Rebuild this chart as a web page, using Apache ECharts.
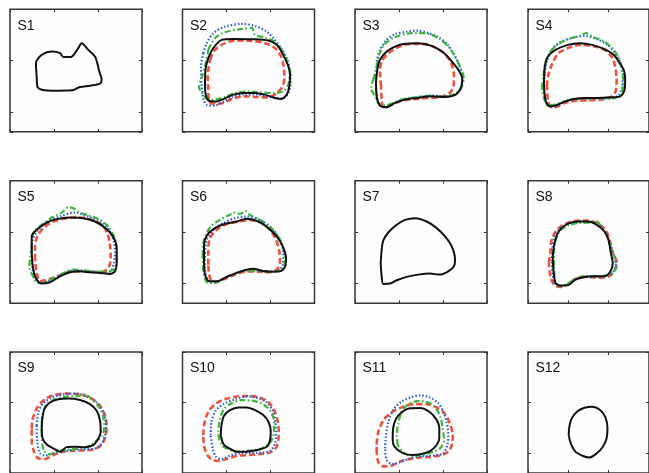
<!DOCTYPE html>
<html><head><meta charset="utf-8">
<script src="https://cdn.jsdelivr.net/npm/echarts@6/dist/echarts.min.js"></script>
<style>html,body{margin:0;padding:0;background:#fff}#c{width:649px;height:473px}</style>
</head><body><div id="c"></div>
<script>
// Panel titles
const titles = ['S1','S2','S3','S4','S5','S6','S7','S8','S9','S10','S11','S12'];
// Axis ticks (panel units: x 0..132, y 0..123 measured downward)
const xTicks = [0, 44, 88, 132];
const yTicks = [0, 51.5, 103];

// ---- contour data: [x, y] in panel units ----
const S1_black = [[26,52.4],[31.7,45.7],[41.7,42.4],[50,44],[53.3,48],[60.7,48],[65,44],[68.3,39],[71.7,34],[78.3,40.7],[85,47.4],[87.7,55.7],[89.3,62.4],[91.7,70.7],[90,74.7],[80,76.7],[70,78],[61.7,81.4],[46.7,81.7],[31.7,80.7],[27.3,77.4],[26.7,67.4],[26,57.4]];

const S2_black = [[25.8,49],[30.8,39],[39.2,30.7],[50.8,29.7],[70.8,30],[85.8,31.4],[94.2,35.7],[99.8,44],[105.2,55.7],[107.5,65.7],[106.8,77.4],[104.2,85.7],[98.5,90],[92.5,89],[82.5,85.7],[72.5,84],[60.8,84],[50.8,85.7],[42.5,89.4],[32.5,92.7],[25.8,91.4],[23.2,85.7],[22.5,74],[23.2,59]];
const S2_blue = [[20.8,44],[24.2,34],[30.8,24],[42.5,17.4],[59.2,14.7],[72.5,16.7],[84.2,22.4],[90.8,29],[97.5,37.4],[104.2,49],[107.5,60.7],[108.2,74],[105.8,84],[99.8,89.4],[87.5,88],[74.2,85.4],[60.8,85.4],[49.2,88],[40.8,93],[31.8,96.7],[24.2,96],[21.2,90.7],[19.2,77.4],[18.5,57.4]];
const S2_green = [[25.8,40.7],[32.5,29],[42.5,23],[59.2,19.7],[69.2,18.7],[72.5,25.7],[82.5,28.4],[91.8,32.4],[99.2,40.7],[104.8,52.4],[107.5,64],[105.8,75.7],[100.8,82.4],[90.8,84],[77.5,83.4],[64.2,82.7],[52.5,84],[42.5,88],[31.8,90.7],[25.2,90],[20.8,85.7],[16.5,78],[18.5,70.7],[22.5,57.4]];
const S2_red = [[27.5,50.7],[32.5,40.7],[42.5,34],[52.5,31.4],[69.2,31.7],[82.5,34],[92.5,39],[98.5,47.4],[101.2,57.4],[101.8,69],[99.8,78],[94.2,84],[85.8,88.4],[74.2,88],[62.5,87.4],[50.8,89.4],[40.8,94],[31.8,95],[26.5,92.4],[25.8,80.7],[25.2,67.4]];

const S3_black = [[22.3,60.7],[25,50.7],[31.7,42.4],[40,37.4],[50,34.7],[63.3,34],[76.7,36.7],[88.3,43.4],[96.7,52.4],[103.3,60.7],[107.3,70],[106,79],[100.7,85.7],[90,88],[76.7,87.4],[63.3,89],[50,90.7],[40,94],[30.7,98.4],[25,96.7],[22,89],[21,74]];
const S3_blue = [[21.7,52.4],[25,40.7],[31.7,30.7],[40,25],[51.7,22.4],[61.7,21.4],[71.7,23.4],[83.3,28],[92.7,35.7],[99.3,45.7],[104,55.7],[107.3,67.4],[106,78],[101.7,84.7],[90,87.4],[76.7,86.7],[63.3,88],[50,90],[40,94],[30,98.4],[24,96],[21.7,87.4],[21,70.7]];
const S3_green = [[18.3,70.7],[21.7,57.4],[24,45.7],[30,34.7],[40,28],[56.7,24],[70,24],[83.3,29],[93.3,37.4],[100,47.4],[105,57.4],[108.7,69],[106,79],[98.3,85.7],[86.7,87.4],[73.3,87],[60,88.4],[46.7,90.7],[36.7,94.7],[28.3,96.7],[23.3,94],[20,87.4],[16,79]];
const S3_red = [[26,77.4],[25,62.4],[26.7,52.4],[33.3,44],[43.3,38],[56.7,34.7],[70,35],[81.7,39],[91,45.7],[96.7,55.7],[99,67.4],[98.3,78],[94,84.7],[85,88],[73.3,89],[60,90],[46.7,91.7],[36.7,95.7],[28.3,97.4],[26.7,90.7]];

const S4_black = [[17.4,74],[18.4,57.4],[21.7,47.4],[30,40.7],[43.4,35.7],[56.7,34],[70,35.7],[83.4,40],[93.4,45.7],[100,54],[104.7,61.4],[106,70.7],[105.4,80.7],[100.7,87.4],[90,88.4],[76.7,89],[63.4,89],[50,90],[40,92.7],[30,96.7],[23.4,97.4],[19,90.7]];
const S4_blue = [[18.4,64],[20,54],[25,42.4],[33.4,34],[46.7,29],[61.7,26.7],[75,30],[86.7,35.7],[95,44],[100.7,54],[103.4,67.4],[102.7,79],[98.4,86.7],[86.7,89.4],[73.4,89.4],[60,89.7],[46.7,90.7],[36.7,94],[26.7,98],[20.7,94.7],[17.4,80.7]];
const S4_green = [[15,79],[16.7,69],[18.4,55.7],[23.4,44],[31.7,35.7],[43.4,30],[56.7,26.7],[63.4,24],[70,27.4],[83.4,32.4],[93.4,40.7],[100,50.7],[103.4,62.4],[104,75.7],[101.7,84],[93.4,89.4],[80,89.4],[66.7,89.4],[53.4,90],[40,92.4],[30,95.4],[21.7,96.7],[17.4,89]];
const S4_red = [[20.7,77.4],[21.7,67.4],[26.7,54],[33.4,44],[43.4,39],[56.7,35.7],[70,36.7],[83.4,40.7],[91.7,48],[95,57.4],[96.7,70.7],[96,80.7],[91.7,87.4],[80,90.7],[66.7,91.4],[53.4,91.7],[40,94],[30,98],[25,98],[21.7,90.7]];

const S5_black = [[21.7,72.6],[21.7,56],[26.7,49.3],[36.7,42],[46.7,38.6],[60,37],[73.3,37.6],[85,41],[93.3,46],[100,52],[105,60],[106.7,69.3],[106.7,81],[105,91],[100,93.6],[90,92.6],[80,92],[70,91],[60,92],[50,96],[40,102],[31.7,103.3],[26.7,99.3],[23.3,89.3]];
const S5_green = [[21.7,69.3],[23.3,52.6],[31.7,44.3],[41.7,37],[51.7,32],[58.3,26.6],[63.3,27.6],[70,32],[80,35.3],[90,39.3],[98.3,46],[104,56],[106.7,67.6],[106.7,79.3],[104.3,88.6],[96.7,91.3],[85,91.3],[73.3,90],[63.3,89.3],[55,92],[45,97],[36.7,101.6],[28.3,102.6],[23.3,96.6],[19.3,86]];
const S5_blue = [[21.7,71],[22.7,59.3],[28.3,49.3],[38.3,41],[51.7,35.3],[65,32],[78.3,36],[90,41],[98.3,48.6],[103.3,59.3],[105,71],[104,82.6],[100,91],[88.3,92],[75,90.3],[61.7,90.3],[51.7,94.3],[41.7,99.3],[31.7,102.6],[25,99.3],[22.3,86]];
const S5_red = [[25,79.3],[25,66],[27.3,56],[33.3,47.6],[43.3,41],[56.7,37.6],[70,37],[81.7,39.3],[91.7,44.3],[97.3,52.6],[100,64.3],[100.7,77.6],[98.3,87.6],[90,92],[76.7,91],[63.3,91],[51.7,94.3],[40,98.6],[30,101],[26.7,92.6]];

const S6_black = [[21.5,79.3],[21.5,64.3],[24.8,54.3],[32.5,47.6],[42.5,43.3],[54.2,41],[64.2,38.3],[75.8,41],[85.8,47.6],[94.2,56],[100.2,66],[103.5,77.6],[102.5,86.6],[97.5,91],[87.5,91.3],[77.5,90],[70.8,88.3],[64.2,89.3],[54.2,92.6],[44.2,96.6],[34.2,101],[26.8,101],[22.5,94.3]];
const S6_green = [[20.2,76],[20.8,62.6],[23.5,54.3],[28.2,46],[37.5,39.3],[47.5,34.3],[52.5,32],[57.5,33.3],[63.2,30.6],[68.2,35],[77.5,39.3],[87.5,46.6],[95.8,56],[100.8,67.6],[102.5,79.3],[100.8,87.6],[94.2,91],[84.2,91.3],[74.2,90.3],[64.2,90.3],[54.2,92.6],[44.2,96.6],[34.2,102],[25.8,102.6],[21.5,95.3]];
const S6_blue = [[22.5,72.6],[24.2,59.3],[30.8,49.3],[40.8,42.6],[52.5,37.6],[64.2,36],[77.5,39.3],[89.2,47.6],[97.5,59.3],[100.8,72.6],[100.2,84.3],[95.8,90.3],[84.2,91.3],[72.5,89.6],[62.5,90],[52.5,93.3],[42.5,97.6],[32.5,102],[25.8,101],[22.5,89.3]];
const S6_red = [[25.8,84.3],[25.8,69.3],[27.5,57.6],[34.2,49.3],[44.2,43.6],[55.8,41],[67.5,39.3],[79.2,42.6],[87.5,49.3],[93.5,59.3],[96.8,71],[97.5,82.6],[94.2,89.3],[84.2,92],[72.5,91],[62.5,91.3],[52.5,94.3],[42.5,98.6],[32.5,102],[27.5,97.6]];

const S7_black = [[25.7,82.6],[26.7,69.3],[28.3,60],[33.3,52],[41.7,44.3],[50,39.3],[60,37.6],[71.7,41],[81.7,47.6],[90,56],[96.7,66],[100,78.6],[99,86],[93.3,91],[85,94.3],[75,93.3],[63.3,94.3],[51.7,96.6],[41.7,100],[35,103.3],[28.3,103.6],[26.7,96.6]];

const S8_black = [[27,76],[28.4,65.3],[31.7,54.3],[36.7,47.6],[45,42.6],[55,41],[65,41],[75,44.3],[83.4,51],[87.7,59.3],[90.4,72.6],[92.4,82.6],[90,91],[83.4,96],[71.7,96],[61.7,96.6],[51.7,99.3],[45,104.3],[35,105.3],[30,102.6],[27.7,89.3]];
const S8_red = [[22.7,82.6],[24.4,72.6],[25.7,59.3],[31.7,49.3],[40,43.6],[51.7,40.3],[65,40],[76.7,43.3],[84.4,49.3],[89,59.3],[92.4,72.6],[96.7,81],[95,89.3],[88.4,96],[75,97.3],[61.7,96.6],[51.7,98.6],[43.4,104.3],[35,106.6],[28.4,104.3],[24.4,96]];
const S8_blue = [[26,81],[26.7,69.3],[28.4,57.6],[34.4,48.6],[43.4,43.3],[55,41],[66.7,41],[77.7,45.3],[85,52.6],[89.4,62.6],[93.4,74.3],[95.7,84.3],[93.4,91],[86.7,95.3],[73.4,96.6],[61.7,96.6],[51.7,99.3],[43.4,104.3],[35,106],[29.4,103.3],[26.7,92.6]];
const S8_green = [[28.4,86],[28.4,71],[30,59.3],[35,50],[44.4,44.6],[55,42.6],[68.4,42],[75,41],[81,47.6],[86.7,56],[90.4,67.6],[95,77.6],[96.7,86],[92.4,92.6],[83.4,95.3],[71.7,96],[60,96],[50,99.3],[41.7,104.3],[33.4,105.3],[29.4,99.3]];

const S9_black = [[31.7,78],[32.3,68],[34.3,58],[40,51.3],[48.3,48],[58.3,47.3],[70,48.7],[80,53],[86.7,59.7],[90,69.7],[90.7,81.3],[88.3,88],[83.3,94.7],[75,96.7],[65,96.3],[56.7,96.7],[50,101.3],[43.3,98],[36.7,94],[32.7,88]];
const S9_red = [[21.7,78],[22.7,68],[27.3,56.3],[35,48],[43.3,44],[56.7,42.3],[70,43],[81.7,47.3],[90,54.7],[95,64.7],[96.7,76.3],[95.3,86.3],[91.7,94],[85,98.7],[75,100],[63.3,100.3],[53.3,101.3],[43.3,104.7],[35,108.7],[28.3,108],[24,101.3],[21.7,89.7]];
const S9_blue = [[26.7,74.7],[28.3,61.3],[33.3,52],[41.7,46.3],[53.3,43],[65,42.3],[76.7,45.3],[86.7,51.3],[93.3,61.3],[96,73],[95,84.7],[91.7,93],[85,98],[73.3,99],[61.7,99.7],[51.7,101.3],[43.3,103],[35,105.3],[30,103],[27.3,91.3]];
const S9_green = [[31.7,84.7],[31.7,74.7],[32.7,63],[36.7,53],[45,48],[56.7,45.3],[68.3,44.7],[75,43],[81.7,48],[89.3,56.3],[93.3,66.3],[94,78],[92,86.3],[88.3,88.7],[83.3,93],[75,97.3],[63.3,98.7],[53.3,99.7],[45,102],[39.3,104],[34.3,101.3],[32.3,94]];

const S10_black = [[38.2,84.7],[39.2,73],[41.5,64.7],[47.5,59],[55.8,56.3],[64.2,56.3],[72.5,59],[80.8,64],[85.8,70.7],[88.2,79.7],[87.5,89.7],[84.2,96.3],[74.2,99.7],[64.2,101.3],[54.2,101.3],[46.8,98],[41.2,94]];
const S10_red = [[20.8,84.7],[21.5,74.7],[24.8,63],[32.5,53],[42.5,48],[54.2,45.3],[65.8,44.7],[76.8,46.3],[85.8,50.7],[91.5,58.7],[94.8,68.7],[96.2,79.7],[95.8,89.7],[93.5,97.3],[87.5,102],[77.5,103.7],[65.8,104.7],[54.2,105.7],[44.2,108.7],[36.8,110.7],[30.2,109.7],[24.8,104.7],[21.5,95.3]];
const S10_blue = [[28.2,84.7],[28.8,71.3],[33.2,59.7],[40.8,53],[52.5,48],[64.2,45],[75.8,47],[84.2,51.3],[90.2,59.7],[92.8,71.3],[93.5,83],[92.5,93],[88.2,100],[80.8,102.3],[69.2,102.3],[57.5,103],[47.5,105.3],[39.2,108.7],[33.5,106.7],[30.2,98]];
const S10_green = [[36.8,89.7],[35.8,81.3],[37.5,68],[41.5,58],[49.2,52],[59.2,49],[70.8,49.7],[80.8,53],[87.5,59.7],[91.5,69.7],[91.5,81.3],[89.2,89.7],[84.2,95.3],[77.5,98.7],[69.2,100],[60.8,100.7],[52.5,101.3],[46.8,99],[40.8,96.3]];

const S11_black = [[37.7,88],[38.3,76.3],[41,68],[46.7,61.3],[55,57.3],[65,57],[74.3,60.7],[81,68],[84.3,77.3],[84.3,87.3],[81,95.3],[75,100.7],[66.7,103.7],[56.7,104.7],[48.3,103],[41.7,98.7],[38.3,94]];
const S11_red = [[21.7,103],[21.7,94.7],[23.3,81.3],[28.3,69.7],[36.7,61.3],[46.7,56.3],[58.3,53],[71.7,53],[81.7,56.3],[90,63],[95,73],[97.7,84.7],[96.7,94.7],[93.3,101.3],[85,105.3],[75,106.7],[65,107.3],[55,108.7],[45.7,111.3],[36.7,115.3],[28.3,116.3],[23.3,112]];
const S11_blue = [[30,98],[31,84.7],[33.3,71.3],[38.3,58.7],[46.7,50.3],[56.7,45.7],[65.7,44],[75,46.3],[83.3,52],[88.3,60.7],[91.7,71.3],[93.3,84.7],[92.3,94.7],[88.3,103],[80,105],[71.7,105.7],[62.3,106.3],[53.3,108.7],[45,112],[36.7,114],[31.7,109.7]];
const S11_green = [[42.7,94.7],[41.7,84.7],[43.3,73],[46.7,60.7],[53.3,53],[62.3,50],[73.3,51.3],[81,57.3],[85.7,67],[87.7,78],[89,89.7],[85.7,97.3],[78.3,101.3],[70,104],[60,105.3],[53.3,104.7],[47.7,101.3]];

const S12_black = [[44.4,84.7],[45,76.3],[47.4,68],[53.4,60.7],[61.7,56.7],[70,55.7],[78.4,58.7],[84.4,66.3],[86.7,77.3],[85.7,88],[81.7,96.3],[75,103],[66.7,107.3],[60,105.7],[51.7,101.3],[46.7,93]];

// contours per panel: [red, blue, green, black]
const panelData = [
  [null, null, null, S1_black],
  [S2_red, S2_blue, S2_green, S2_black],
  [S3_red, S3_blue, S3_green, S3_black],
  [S4_red, S4_blue, S4_green, S4_black],
  [S5_red, S5_blue, S5_green, S5_black],
  [S6_red, S6_blue, S6_green, S6_black],
  [null, null, null, S7_black],
  [S8_red, S8_blue, S8_green, S8_black],
  [S9_red, S9_blue, S9_green, S9_black],
  [S10_red, S10_blue, S10_green, S10_black],
  [S11_red, S11_blue, S11_green, S11_black],
  [null, null, null, S12_black]
];

const styles = [
  {color:'#f0503c', width:2.6, type:[6,3]},
  {color:'#2a5fd8', width:2.2, type:[1.5,2]},
  {color:'#3cb43c', width:2.2, type:[6,2.5,1.5,2.5]},
  {color:'#111111', width:2, type:'solid'}
];

const lefts = [10, 182.5, 355, 528];
const tops = [9.3, 180.7, 352];
const W = 132, H = 122.5;

const grid = [], xAxis = [], yAxis = [], series = [], title = [];
const tick = {show:true, inside:true, length:3, lineStyle:{color:'#333', width:1}};
const close = a => a.concat([a[0]]);
for (let i = 0; i < 12; i++) {
  const r = Math.floor(i/4), c = i % 4;
  grid.push({left: lefts[c], top: tops[r], width: W, height: H, show:true,
    borderColor:'#3a3434', borderWidth:1.5, backgroundColor:'#fefefe', containLabel:false});
  ['bottom','top'].forEach(pos => xAxis.push({type:'value', gridIndex:i, position:pos,
    min:xTicks[0], max:xTicks[xTicks.length-1], interval:xTicks[1]-xTicks[0],
    axisLine:{show:false, onZero:false}, axisTick:tick, axisLabel:{show:false}, splitLine:{show:false}}));
  ['left','right'].forEach(pos => yAxis.push({type:'value', gridIndex:i, position:pos, inverse:true,
    min:yTicks[0], max:123, interval:yTicks[1]-yTicks[0],
    axisLine:{show:false, onZero:false}, axisTick:tick, axisLabel:{show:false}, splitLine:{show:false}}));
  title.push({text: titles[i], left: lefts[c] + 7.5, top: tops[r] + 9.5, padding:0,
    textStyle:{fontSize:14, fontWeight:'normal', color:'#111', fontFamily:'Liberation Sans, Arial, sans-serif'}});
  panelData[i].forEach((d, k) => {
    if (!d) return;
    series.push({type:'line', xAxisIndex: 2*i, yAxisIndex: 2*i, data: close(d),
      showSymbol:false, symbol:'none', smooth:0.3, silent:true, z: 2 + k,
      lineStyle:{color:styles[k].color, width:styles[k].width, type:styles[k].type}});
  });
}

const chart = echarts.init(document.getElementById('c'), null, {renderer:'canvas'});
chart.setOption({animation:false, backgroundColor:'#ffffff', title, grid, xAxis, yAxis, series});
</script>
</body></html>
